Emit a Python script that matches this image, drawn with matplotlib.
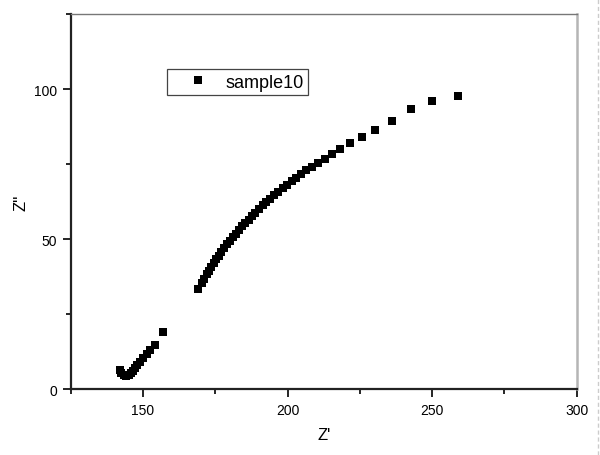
import matplotlib
matplotlib.use("Agg")
import matplotlib.pyplot as plt
from matplotlib.lines import Line2D
from matplotlib.ticker import MultipleLocator

plt.rcParams["font.family"] = ["Liberation Sans", "DejaVu Sans"]

# Nyquist data
z_real = [
    142.0, 142.5, 143.3, 144.2, 145.0, 145.8, 146.5, 147.2, 148.0, 149.0,
    150.0, 151.2, 152.5, 154.0, 156.8,
    169.0, 170.3, 171.2, 172.0, 172.8, 173.6, 174.4, 175.3, 176.2, 177.1,
    178.0, 179.0, 180.0, 181.0, 182.0, 183.1, 184.2, 185.3, 186.5, 187.7,
    188.9, 190.1, 191.4, 192.7, 194.0, 195.4, 196.8, 198.3, 199.8, 201.4,
    203.0, 204.7, 206.5, 208.4, 210.5, 212.8, 215.4, 218.3, 221.7, 225.6,
    230.3, 236.0, 242.8, 249.8, 258.8,
]
z_imag = [
    6.5, 5.5, 4.8, 4.5, 4.6, 5.2, 6.0, 7.0, 8.0, 9.0,
    10.2, 11.6, 13.0, 14.7, 19.0,
    33.3, 35.2, 36.8, 38.2, 39.5, 40.8, 42.0, 43.2, 44.4, 45.6,
    46.9, 48.2, 49.4, 50.6, 51.8, 53.0, 54.2, 55.3, 56.5, 57.7,
    58.8, 60.0, 61.2, 62.3, 63.5, 64.6, 65.7, 66.9, 68.0, 69.2,
    70.4, 71.6, 72.9, 74.1, 75.4, 76.8, 78.3, 80.0, 81.9, 84.0,
    86.4, 89.3, 93.5, 96.0, 97.8,
]

fig = plt.figure(figsize=(6, 4.56), dpi=100)
ax = fig.add_axes([0.118, 0.1447, 0.843, 0.8223])

ax.plot(z_real, z_imag, "s", color="black", markersize=5.8,
        markeredgewidth=0, label="sample10")

ax.set_xlim(125, 300)
ax.set_ylim(0, 125)
ax.xaxis.set_major_locator(MultipleLocator(50))
ax.xaxis.set_minor_locator(MultipleLocator(25))
ax.yaxis.set_major_locator(MultipleLocator(50))
ax.yaxis.set_minor_locator(MultipleLocator(25))

ax.tick_params(which="major", direction="out", length=6, width=1.2,
               labelsize=10, pad=4, top=False, right=False)
ax.tick_params(which="minor", direction="out", length=3.5, width=1.2,
               top=False, right=False)

for side in ["left", "bottom"]:
    ax.spines[side].set_color("#222222")
    ax.spines[side].set_linewidth(1.6)
ax.spines["top"].set_color("#777777")
ax.spines["top"].set_linewidth(1.0)
ax.spines["right"].set_color("#b5b5b5")
ax.spines["right"].set_linewidth(1.8)

ax.set_xlabel("Z'", fontsize=12, labelpad=7)
ax.set_ylabel("Z''", fontsize=12, labelpad=4)

leg = ax.legend(loc="upper left", bbox_to_anchor=(0.19, 0.853),
                borderaxespad=0, fancybox=False, framealpha=1,
                edgecolor="#444444", fontsize=13, handlelength=3.0,
                handletextpad=0.0, borderpad=0.25, markerscale=1.0)
leg.get_frame().set_linewidth(0.9)

# dashed page border at the right edge
fig.add_artist(Line2D([0.996, 0.996], [0, 1], transform=fig.transFigure,
                      color="#cccccc", linestyle=(0, (3, 2)), linewidth=1))

plt.savefig("out.png", dpi=100)
